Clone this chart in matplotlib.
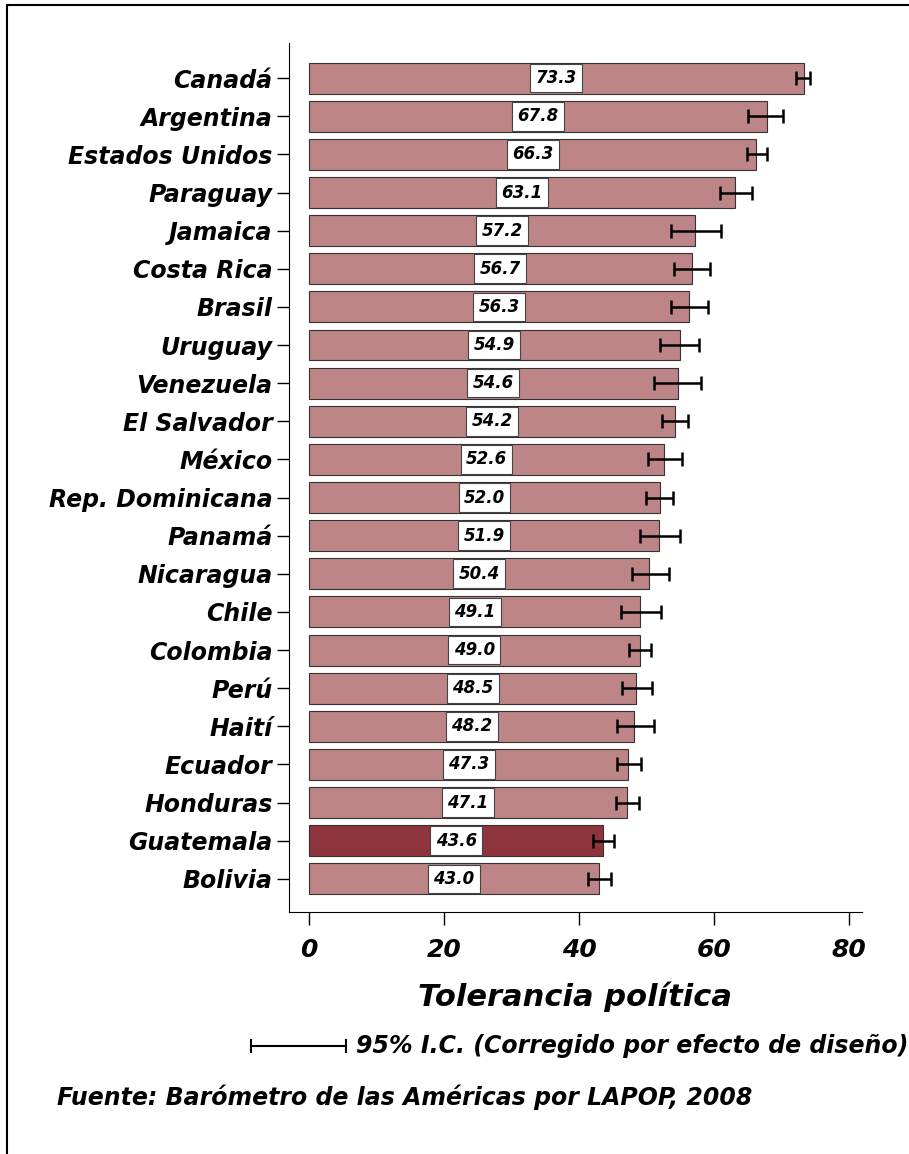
import numpy as np
import matplotlib
matplotlib.use("Agg")
import matplotlib.pyplot as plt
from matplotlib.patches import Rectangle
from matplotlib.lines import Line2D

# data
countries = ["Canadá", "Argentina", "Estados Unidos", "Paraguay", "Jamaica",
             "Costa Rica", "Brasil", "Uruguay", "Venezuela", "El Salvador",
             "México", "Rep. Dominicana", "Panamá", "Nicaragua", "Chile",
             "Colombia", "Perú", "Haití", "Ecuador", "Honduras", "Guatemala",
             "Bolivia"]
values = [73.3, 67.8, 66.3, 63.1, 57.2, 56.7, 56.3, 54.9, 54.6, 54.2,
          52.6, 52.0, 51.9, 50.4, 49.1, 49.0, 48.5, 48.2, 47.3, 47.1,
          43.6, 43.0]
ci_low = [72.2, 65.0, 64.9, 60.9, 53.6, 54.1, 53.7, 52.0, 51.1, 52.3,
          50.2, 50.0, 49.0, 47.8, 46.2, 47.4, 46.4, 45.6, 45.7, 45.5,
          42.1, 41.4]
ci_high = [74.3, 70.3, 67.9, 65.6, 61.0, 59.4, 59.1, 57.8, 58.1, 56.2,
           55.3, 54.0, 55.0, 53.3, 52.2, 50.7, 50.8, 51.1, 49.2, 48.9,
           45.2, 44.8]
highlight = "Guatemala"
xticks = [0, 20, 40, 60, 80]

plt.rcParams['font.family'] = ['DejaVu Sans']
bi = dict(fontweight="bold", fontstyle="italic")

fig = plt.figure(figsize=(9.09, 11.54), dpi=100)
ax = fig.add_axes([0.318, 0.2097, 0.63, 0.753])

ypos = np.arange(len(countries))
colors = ["#8E343C" if c == highlight else "#BD8585" for c in countries]
ax.barh(ypos, values, height=0.81, color=colors, edgecolor="#333333", linewidth=0.8, zorder=2)

vals = np.array(values)
xerr = np.vstack([vals - np.array(ci_low), np.array(ci_high) - vals])
ax.errorbar(vals, ypos, xerr=xerr, fmt="none", ecolor="black", elinewidth=1.8,
            capsize=5, capthick=1.8, zorder=3)

for y, v in zip(ypos, values):
    ax.text(v / 2, y, f"{v:.1f}", ha="center", va="center", fontsize=12, zorder=4,
            bbox=dict(boxstyle="square,pad=0.32", facecolor="white",
                      edgecolor="#444444", linewidth=0.8), **bi)

ax.set_ylim(len(countries) - 1 + 0.87, -0.92)
ax.set_xlim(-2.96, 81.9)
ax.set_yticks(ypos)
ax.set_yticklabels(countries, fontsize=17, **bi)
ax.set_xticks(xticks)
ax.set_xticklabels([str(t) for t in xticks], fontsize=18, **bi)
ax.tick_params(axis="x", length=9, width=1, pad=10)
ax.tick_params(axis="y", length=9, width=1, pad=3)
ax.spines["top"].set_visible(False)
ax.spines["right"].set_visible(False)
ax.set_xlabel("Tolerancia política", fontsize=22, labelpad=14, **bi)

# legend for the confidence interval
fig.add_artist(Line2D([251 / 909, 346 / 909], [1 - 1046 / 1154] * 2, color="black", lw=1.5))
for xp in (251, 346):
    fig.add_artist(Line2D([xp / 909] * 2, [1 - 1040 / 1154, 1 - 1052 / 1154], color="black", lw=1.5))
fig.text(356 / 909, 1 - 1046 / 1154, "95% I.C. (Corregido por efecto de diseño)",
         fontsize=17, va="center", ha="left", **bi)

fig.text(57 / 909, 1 - 1097 / 1154, "Fuente: Barómetro de las Américas por LAPOP, 2008",
         fontsize=17, va="center", ha="left", **bi)

# outer frame
fig.add_artist(Rectangle((7 / 909, -0.1), 1.2, 1 - 5 / 1154 + 0.1, transform=fig.transFigure,
                         fill=False, edgecolor="black", linewidth=1.5))

fig.savefig("out.png", dpi=100)
